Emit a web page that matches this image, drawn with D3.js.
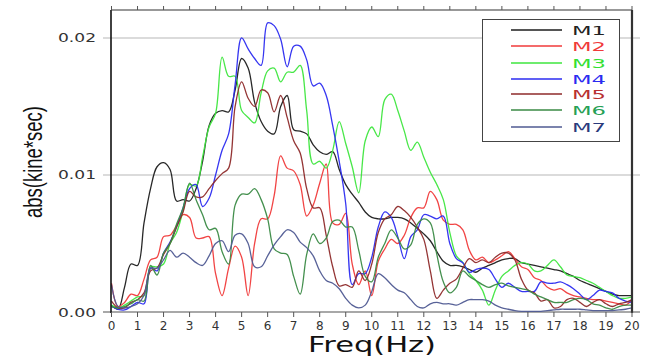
<!DOCTYPE html>
<html><head><meta charset="utf-8">
<script src="https://cdn.jsdelivr.net/npm/d3@7/dist/d3.min.js"></script>
<style>html,body{margin:0;padding:0;background:#fff;}svg{display:block;}</style>
</head><body>
<svg id="c" width="657" height="358"></svg>
<script>
const freqs = [0,0.25,0.5,0.75,1,1.25,1.5,1.75,2,2.25,2.5,2.75,3,3.25,3.5,3.75,4,4.25,4.5,4.75,5,5.25,5.5,5.75,6,6.25,6.5,6.75,7,7.25,7.5,7.75,8,8.25,8.5,8.75,9,9.25,9.5,9.75,10,10.25,10.5,10.75,11,11.25,11.5,11.75,12,12.25,12.5,12.75,13,13.25,13.5,13.75,14,14.25,14.5,14.75,15,15.25,15.5,15.75,16,16.25,16.5,16.75,17,17.25,17.5,17.75,18,18.25,18.5,18.75,19,19.25,19.5,19.75,20];
const m1 = [0.0005,0.0002,0.0018,0.0035,0.0034,0.0065,0.0090,0.0106,0.0109,0.0104,0.0081,0.0082,0.0081,0.0090,0.0110,0.0136,0.0145,0.0147,0.0146,0.0162,0.0185,0.0178,0.0153,0.0139,0.0132,0.0130,0.0150,0.0158,0.0133,0.0132,0.0130,0.0122,0.0117,0.0115,0.0117,0.0104,0.0093,0.0086,0.0080,0.0073,0.0069,0.0068,0.0068,0.0069,0.0069,0.0068,0.0065,0.0061,0.0057,0.0052,0.0044,0.0037,0.0034,0.0034,0.0033,0.0031,0.0029,0.0032,0.0034,0.0036,0.0038,0.0039,0.0039,0.0036,0.0035,0.0034,0.0033,0.0032,0.0031,0.0030,0.0028,0.0026,0.0023,0.0021,0.0019,0.0017,0.0015,0.0013,0.0012,0.0012,0.0012];
const m2 = [0.0021,0.0004,0.0007,0.0013,0.0012,0.0024,0.0038,0.0040,0.0055,0.0056,0.0063,0.0071,0.0069,0.0054,0.0054,0.0055,0.0028,0.0012,0.0032,0.0048,0.0040,0.0012,0.0050,0.0068,0.0068,0.0085,0.0114,0.0105,0.0103,0.0093,0.0070,0.0078,0.0094,0.0108,0.0065,0.0064,0.0072,0.0035,0.0020,0.0030,0.0012,0.0037,0.0046,0.0053,0.0050,0.0056,0.0069,0.0076,0.0076,0.0088,0.0082,0.0067,0.0064,0.0064,0.0060,0.0045,0.0038,0.0040,0.0036,0.0038,0.0041,0.0044,0.0039,0.0033,0.0031,0.0025,0.0023,0.0018,0.0016,0.0017,0.0014,0.0012,0.0011,0.0010,0.0009,0.0009,0.0008,0.0007,0.0006,0.0005,0.0009];
const m3 = [0.0005,0.0003,0.0005,0.0008,0.0011,0.0012,0.0033,0.0033,0.0035,0.0050,0.0058,0.0074,0.0093,0.0092,0.0113,0.0135,0.0145,0.0186,0.0172,0.0172,0.0147,0.0142,0.0138,0.0160,0.0176,0.0178,0.0168,0.0175,0.0175,0.0180,0.0147,0.0108,0.0110,0.0105,0.0118,0.0139,0.0123,0.0106,0.0087,0.0125,0.0135,0.0128,0.0155,0.0159,0.0147,0.0132,0.0118,0.0124,0.0113,0.0102,0.0093,0.0082,0.0058,0.0041,0.0036,0.0028,0.0023,0.0016,0.0005,0.0016,0.0026,0.0030,0.0034,0.0036,0.0035,0.0030,0.0030,0.0034,0.0038,0.0033,0.0027,0.0026,0.0025,0.0023,0.0021,0.0018,0.0015,0.0012,0.0010,0.0010,0.0011];
const m4 = [0.0004,0.0002,0.00015,0.0004,0.0007,0.0006,0.0032,0.0030,0.0043,0.0051,0.0062,0.0076,0.0090,0.0093,0.0077,0.0083,0.0100,0.0118,0.0130,0.0166,0.0200,0.0192,0.0185,0.0180,0.0211,0.0209,0.0199,0.0179,0.0194,0.0194,0.0184,0.0165,0.0167,0.0158,0.0136,0.0110,0.0079,0.0020,0.0028,0.0028,0.0040,0.0062,0.0073,0.0069,0.0055,0.0039,0.0055,0.0060,0.0071,0.0070,0.0068,0.0070,0.0050,0.0039,0.0036,0.0029,0.0031,0.0032,0.0031,0.0024,0.0018,0.0021,0.0018,0.0015,0.0015,0.0015,0.0022,0.0021,0.0021,0.0022,0.0020,0.0017,0.0013,0.0009,0.0012,0.0016,0.0015,0.0014,0.0010,0.0008,0.0007];
const m5 = [0.0008,0.0003,0.0003,0.0007,0.0009,0.0014,0.0030,0.0032,0.0042,0.0050,0.0062,0.0073,0.0088,0.0084,0.0084,0.0090,0.0096,0.0101,0.0105,0.0150,0.0168,0.0156,0.0150,0.0162,0.0160,0.0146,0.0158,0.0142,0.0125,0.0116,0.0090,0.0076,0.0076,0.0056,0.0033,0.0019,0.0020,0.0018,0.0030,0.0023,0.0035,0.0058,0.0068,0.0071,0.0077,0.0074,0.0069,0.0062,0.0053,0.0030,0.0010,0.0016,0.0021,0.0024,0.0032,0.0039,0.0036,0.0038,0.0036,0.0040,0.0043,0.0043,0.0038,0.0024,0.0016,0.0014,0.0008,0.0009,0.0003,0.0004,0.0009,0.0010,0.0007,0.0004,0.0007,0.0009,0.0006,0.0004,0.0006,0.0007,0.0009];
const m6 = [0.0004,0.0003,0.0004,0.0006,0.0009,0.0008,0.0034,0.0027,0.0043,0.0050,0.0064,0.0076,0.0094,0.0082,0.0071,0.0060,0.0061,0.0044,0.0035,0.0078,0.0086,0.0086,0.0090,0.0082,0.0068,0.0046,0.0043,0.0042,0.0026,0.0013,0.0042,0.0057,0.0050,0.0054,0.0066,0.0067,0.0062,0.0062,0.0045,0.0026,0.0022,0.0040,0.0050,0.0060,0.0054,0.0046,0.0049,0.0064,0.0068,0.0065,0.0042,0.0022,0.0014,0.0018,0.0030,0.0026,0.0023,0.0020,0.0018,0.0020,0.0021,0.0019,0.0018,0.0017,0.0016,0.0013,0.0011,0.0009,0.0007,0.0007,0.0007,0.0009,0.0010,0.0009,0.0006,0.0005,0.0003,0.0002,0.0004,0.0005,0.0005];
const m7 = [0.0020,0.0004,0.0003,0.0004,0.0006,0.0012,0.0032,0.0032,0.0038,0.0045,0.0040,0.0043,0.0040,0.0036,0.0034,0.0041,0.0050,0.0052,0.0044,0.0056,0.0057,0.0050,0.0033,0.0033,0.0041,0.0049,0.0055,0.0060,0.0058,0.0051,0.0047,0.0041,0.0030,0.0023,0.0021,0.0017,0.0010,0.0005,0.0003,0.0005,0.0015,0.0028,0.0025,0.0020,0.0016,0.0014,0.0009,0.0004,0.0003,0.0006,0.0007,0.0006,0.0006,0.0005,0.0007,0.0009,0.0009,0.0009,0.0008,0.0005,0.0003,0.0002,0.0001,0.00005,0.00005,0.00005,0.00005,0.0001,0.00015,0.0002,0.0002,0.0002,0.0002,0.00015,0.0001,0.0001,0.0001,0.0001,0.00015,0.0002,0.0003];
const seriesNames = ["M1","M2","M3","M4","M5","M6","M7"];
const seriesValues = [m1,m2,m3,m4,m5,m6,m7];
const lineColors = ["#1c1c1c","#f03a3a","#3ee63e","#2b2bf0","#8e2a2a","#3a8a44","#4f5a92"];
const labelColors = ["#222222","#f03a3a","#33e033","#2b2bf0","#b83030","#26a055","#2a3a7c"];
const xTicks = [0,1,2,3,4,5,6,7,8,9,10,11,12,13,14,15,16,17,18,19,20];
const yTicks = [0, 0.01, 0.02];
const yTickLabels = ["0.00","0.01","0.02"];

const svg = d3.select("#c");
const L = 111, R = 632, T = 10, B = 312;
const x = d3.scaleLinear().domain([0,20]).range([L+0.5, R]);
const y = d3.scaleLinear().domain([0,0.02204]).range([B, T]);

svg.append("g").selectAll("line").data(yTicks.slice(1)).join("line")
  .attr("x1", 103).attr("x2", 640).attr("y1", d=>y(d)).attr("y2", d=>y(d))
  .attr("stroke","#cfcfcf").attr("stroke-width",1.6);
svg.append("line").attr("x1",103).attr("x2",640).attr("y1",B).attr("y2",B)
  .attr("stroke","#a8a8a8").attr("stroke-width",1.8);

svg.append("clipPath").attr("id","clip").append("rect")
  .attr("x",L).attr("y",T).attr("width",R-L).attr("height",B-T+1);

const line = d3.line().x((d,i)=>x(freqs[i])).y(d=>y(d)).curve(d3.curveCatmullRom.alpha(0.5));
const g = svg.append("g").attr("clip-path","url(#clip)");
g.selectAll("path").data(seriesValues).join("path")
  .attr("d", d=>line(d)).attr("fill","none")
  .attr("stroke",(d,i)=>lineColors[i]).attr("stroke-width",1.3)
  .attr("stroke-linejoin","round").attr("opacity",0.95);

svg.append("line").attr("x1",L).attr("x2",L).attr("y1",T).attr("y2",B+1).attr("stroke","#111").attr("stroke-width",1.6);
svg.append("line").attr("x1",L).attr("x2",R).attr("y1",T).attr("y2",T).attr("stroke","#333").attr("stroke-width",1.2);
svg.append("line").attr("x1",R).attr("x2",R).attr("y1",T).attr("y2",B+1).attr("stroke","#333").attr("stroke-width",2.2);

svg.append("g").selectAll("line").data(xTicks).join("line")
  .attr("x1",d=>x(d)).attr("x2",d=>x(d)).attr("y1",B).attr("y2",B+5)
  .attr("stroke","#555").attr("stroke-width",1);
svg.append("g").selectAll("line").data(xTicks).join("line")
  .attr("x1",d=>x(d)).attr("x2",d=>x(d)).attr("y1",T-4).attr("y2",T)
  .attr("stroke","#555").attr("stroke-width",1);
svg.append("g").selectAll("text").data(xTicks).join("text")
  .attr("x",d=>x(d)).attr("y",330).attr("text-anchor","middle")
  .attr("font-family","DejaVu Sans").attr("font-size",12).attr("fill","#333")
  .text(d=>d);

svg.append("g").selectAll("text").data(yTicks).join("text")
  .attr("x",96).attr("y",d=>y(d)+4.5).attr("text-anchor","end")
  .attr("font-family","DejaVu Sans").attr("font-size",12).attr("fill","#333")
  .attr("textLength",38).attr("lengthAdjust","spacingAndGlyphs")
  .text((d,i)=>yTickLabels[i]);

svg.append("text").attr("x",372).attr("y",352).attr("text-anchor","middle")
  .attr("font-family","DejaVu Sans").attr("font-size",22).attr("fill","#111")
  .attr("textLength",128).attr("lengthAdjust","spacingAndGlyphs")
  .text("Freq(Hz)");
svg.append("text").attr("transform","translate(42,162) rotate(-90)").attr("text-anchor","middle")
  .attr("font-family","Liberation Sans").attr("font-size",25).attr("fill","#111")
  .attr("textLength",112).attr("lengthAdjust","spacingAndGlyphs")
  .text("abs(kine*sec)");

const lg = svg.append("g");
lg.append("rect").attr("x",482.5).attr("y",19.5).attr("width",137).attr("height",122)
  .attr("fill","#fff").attr("stroke","#444").attr("stroke-width",1);
const rowY = [30,46,63,79,94,110,127];
lg.selectAll("line").data(seriesNames).join("line")
  .attr("x1",511).attr("x2",562).attr("y1",(d,i)=>rowY[i]).attr("y2",(d,i)=>rowY[i])
  .attr("stroke",(d,i)=>lineColors[i]).attr("stroke-width",1.3);
lg.selectAll("text").data(seriesNames).join("text")
  .attr("x",572).attr("y",(d,i)=>rowY[i]+4.5).attr("font-family","DejaVu Sans").attr("font-size",13)
  .attr("fill",(d,i)=>labelColors[i]).attr("textLength",34).attr("lengthAdjust","spacingAndGlyphs")
  .text(d=>d);
</script>
</body></html>
